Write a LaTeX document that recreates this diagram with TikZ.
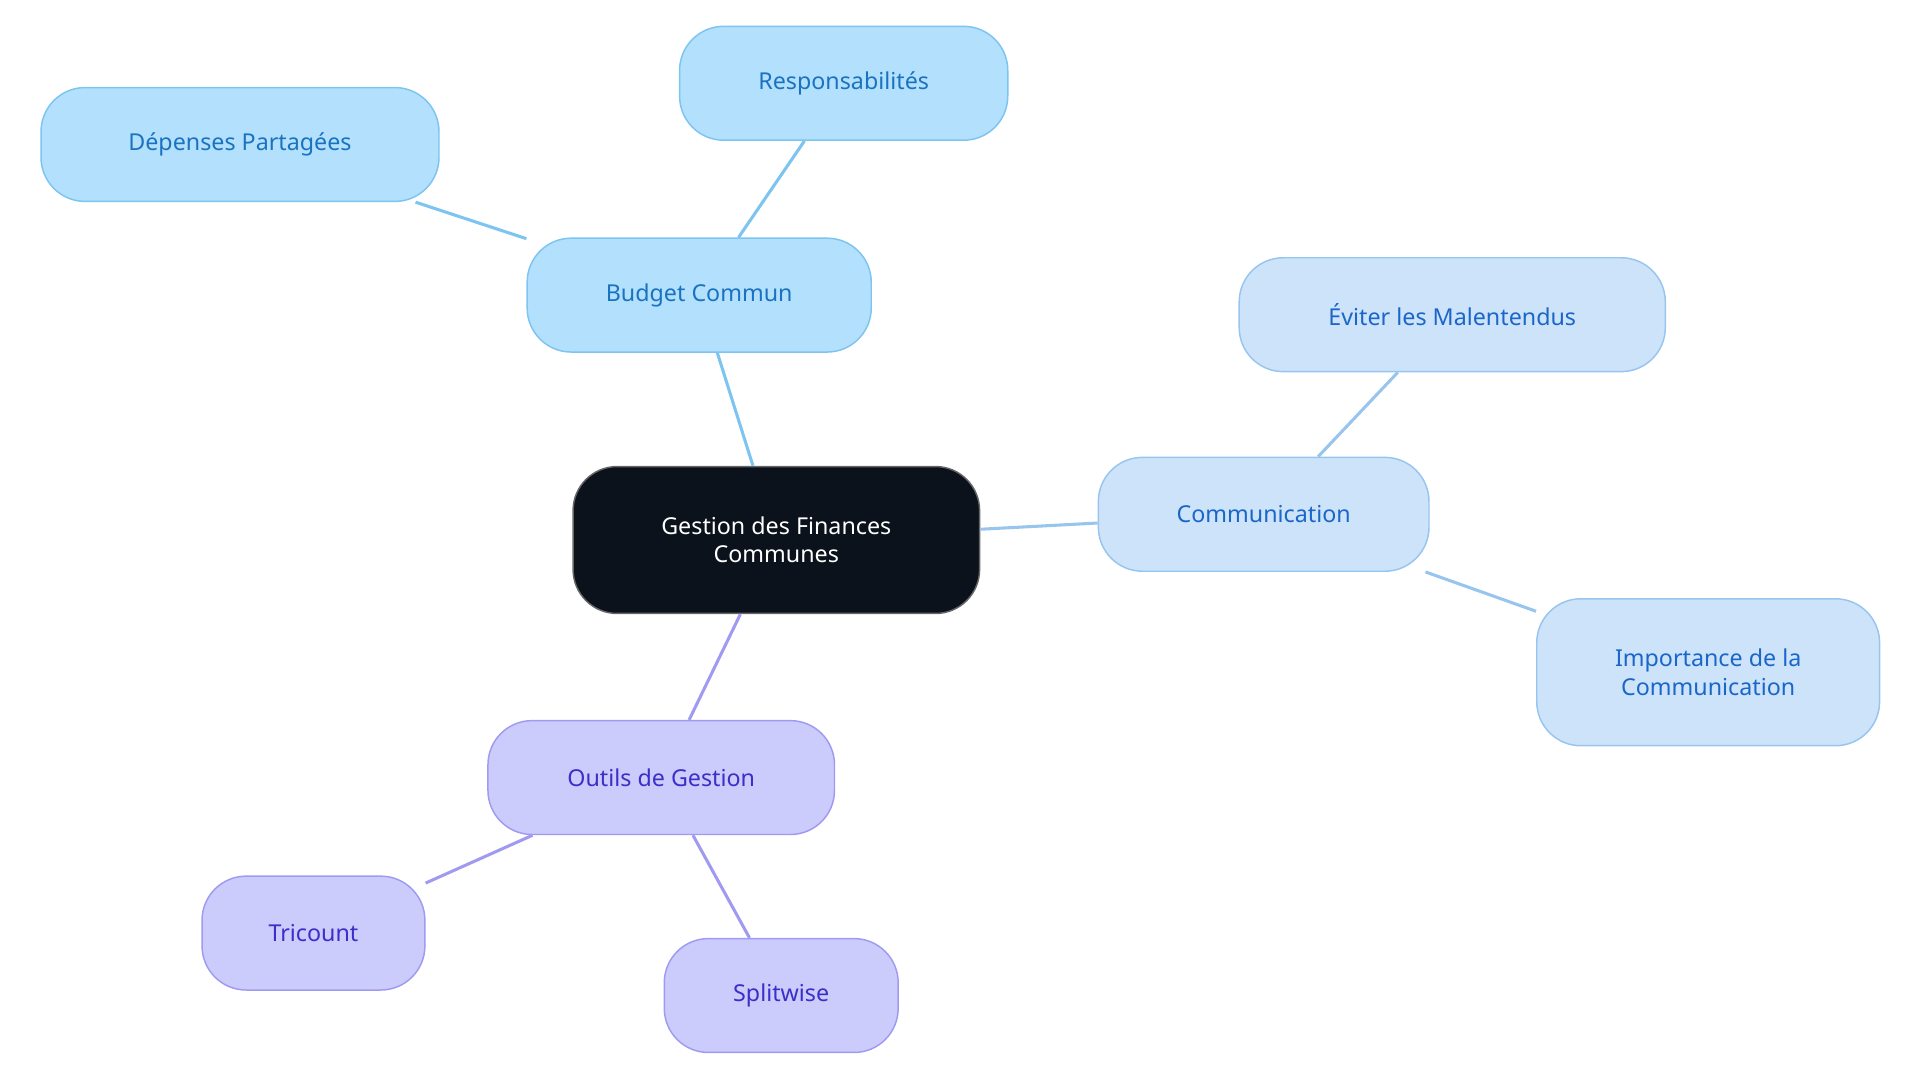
\documentclass[tikz,border=0pt]{standalone}
\usepackage{fontspec}
\setmainfont{Noto Sans}
\definecolor{cfill}{HTML}{0B121B}
\definecolor{bfill}{HTML}{B3E0FD}\definecolor{bdraw}{HTML}{7DC4F0}\definecolor{btext}{HTML}{1A73C0}
\definecolor{mfill}{HTML}{CCE3FA}\definecolor{mdraw}{HTML}{98C5EE}\definecolor{mtext}{HTML}{1B66C9}
\definecolor{pfill}{HTML}{CBCBFC}\definecolor{pdraw}{HTML}{A09AF0}\definecolor{ptext}{HTML}{3B2FC9}
\begin{document}
\begin{tikzpicture}[x=1pt,y=-1pt,
  box/.style={rounded corners=36pt,line width=1.2pt,align=center,font=\fontsize{19}{23}\selectfont,inner sep=0pt},
  bb/.style={box,fill=bfill,draw=bdraw,text=btext},
  mb/.style={box,fill=mfill,draw=mdraw,text=mtext},
  pb/.style={box,fill=pfill,draw=pdraw,text=ptext},
  bl/.style={draw=bdraw,line width=2.5pt},
  ml/.style={draw=mdraw,line width=2.5pt},
  pl/.style={draw=pdraw,line width=2.5pt}]
\useasboundingbox (0,0) rectangle (1568,884);
\node[box,fill=cfill,draw=black!60,text=white,minimum width=332pt,minimum height=120pt] (c) at (634,441) {Gestion des Finances\\Communes};
\node[bb,minimum width=281pt,minimum height=93pt] (b) at (571,241) {Budget Commun};
\node[bb,minimum width=268pt,minimum height=93pt] (r) at (689,68) {Responsabilités};
\node[bb,minimum width=325pt,minimum height=93pt] (d) at (196,118) {Dépenses Partagées};
\node[mb,minimum width=270pt,minimum height=93pt] (m) at (1032,420) {Communication};
\node[mb,minimum width=348pt,minimum height=93pt] (e) at (1186,257) {Éviter les Malentendus};
\node[mb,minimum width=280pt,minimum height=120pt] (i) at (1395,549) {Importance de la\\Communication};
\node[pb,minimum width=283pt,minimum height=93pt] (o) at (540,635) {Outils de Gestion};
\node[pb,minimum width=182pt,minimum height=93pt] (t) at (256,762) {Tricount};
\node[pb,minimum width=191pt,minimum height=93pt] (s) at (638,813) {Splitwise};
\begin{scope}[on background layer/.style={}]
\end{scope}
\path[bl] (c) -- (b); \path[bl] (b) -- (r); \path[bl] (b) -- (d);
\path[ml] (c) -- (m); \path[ml] (m) -- (e); \path[ml] (m) -- (i);
\path[pl] (c) -- (o); \path[pl] (o) -- (t); \path[pl] (o) -- (s);
\end{tikzpicture}
\end{document}
